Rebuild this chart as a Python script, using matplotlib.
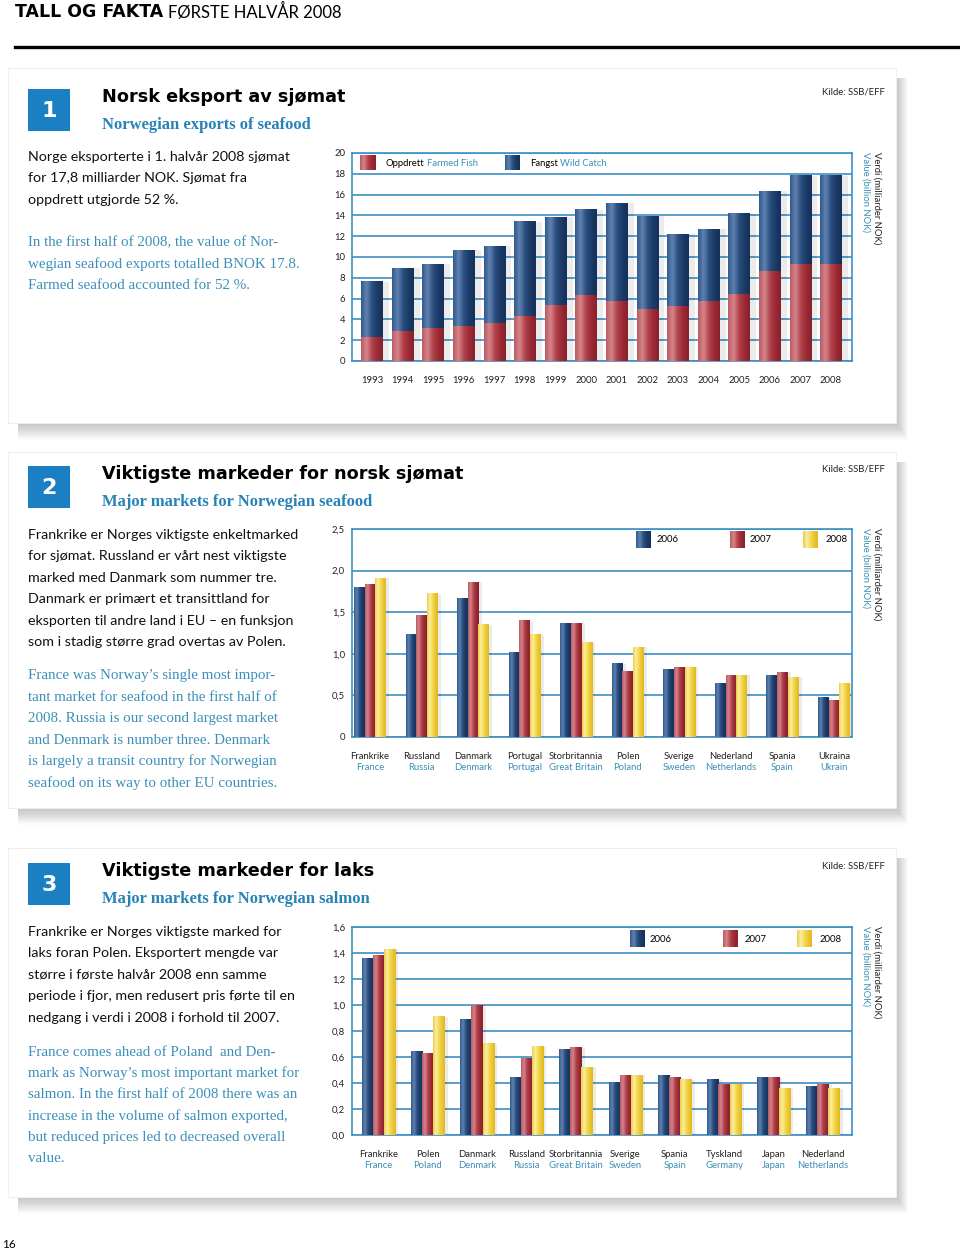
import numpy as np
import matplotlib
matplotlib.use("Agg")
import matplotlib.pyplot as plt
from matplotlib.patches import Rectangle
from matplotlib.colors import LinearSegmentedColormap
import matplotlib.transforms as mtrans

W, H = 960, 1253

# ---- data ----
years = ["1993", "1994", "1995", "1996", "1997", "1998", "1999", "2000",
         "2001", "2002", "2003", "2004", "2005", "2006", "2007", "2008"]
farmed = [2.3, 2.9, 3.2, 3.4, 3.7, 4.3, 5.4, 6.3, 5.8, 5.0, 5.3, 5.8, 6.4, 8.7, 9.3, 9.3]
wild = [5.3, 6.0, 6.1, 7.3, 7.4, 9.1, 8.4, 8.2, 9.4, 8.9, 6.9, 6.9, 7.7, 7.6, 8.5, 8.5]

sea_no = ["Frankrike", "Russland", "Danmark", "Portugal", "Storbritannia",
          "Polen", "Sverige", "Nederland", "Spania", "Ukraina"]
sea_en = ["France", "Russia", "Denmark", "Portugal", "Great Britain",
          "Poland", "Sweden", "Netherlands", "Spain", "Ukrain"]
sea_2006 = [1.80, 1.23, 1.67, 1.01, 1.36, 0.88, 0.81, 0.64, 0.74, 0.47]
sea_2007 = [1.83, 1.46, 1.86, 1.40, 1.37, 0.79, 0.83, 0.74, 0.78, 0.44]
sea_2008 = [1.91, 1.72, 1.35, 1.23, 1.13, 1.08, 0.84, 0.74, 0.72, 0.64]

salmon_no = ["Frankrike", "Polen", "Danmark", "Russland", "Storbritannia",
             "Sverige", "Spania", "Tyskland", "Japan", "Nederland"]
salmon_en = ["France", "Poland", "Denmark", "Russia", "Great Britain",
             "Sweden", "Spain", "Germany", "Japan", "Netherlands"]
salmon_2006 = [1.36, 0.64, 0.89, 0.44, 0.66, 0.40, 0.46, 0.425, 0.44, 0.37]
salmon_2007 = [1.38, 0.63, 1.00, 0.59, 0.67, 0.46, 0.44, 0.39, 0.44, 0.39]
salmon_2008 = [1.43, 0.91, 0.70, 0.68, 0.52, 0.46, 0.425, 0.39, 0.355, 0.355]

BLUE_BOX = "#1b7fc4"
TEAL = "#3b8fb8"
GRID = "#3d8fc2"
SANS = ["Lato", "DejaVu Sans"]
SERIF = ["Liberation Serif", "DejaVu Serif"]

blue_stops = ["#2f5a8c", "#6283b0", "#2a4f80", "#1b3b67", "#15305a"]
red_stops = ["#bb5a62", "#d6868c", "#b2434d", "#9b2a35", "#87212c"]
yel_stops = ["#ecca42", "#fbefa6", "#f4da55", "#ecc733", "#e0b820"]

fig = plt.figure(figsize=(W / 100, H / 100), dpi=100)
fig.patch.set_facecolor("white")

bg = fig.add_axes([0, 0, 1, 1], zorder=0)
bg.set_xlim(0, W)
bg.set_ylim(H, 0)
bg.axis("off")

top = fig.add_axes([0, 0, 1, 1], zorder=10)
top.set_xlim(0, W)
top.set_ylim(H, 0)
top.axis("off")


def grad_box(ax, x0, x1, y0, y1, stops, z=3):
    cmap = LinearSegmentedColormap.from_list("g", stops)
    g = np.linspace(0, 1, 64).reshape(1, -1)
    ax.imshow(g, cmap=cmap, extent=(x0, x1, y0, y1), aspect="auto",
              origin="lower", zorder=z, interpolation="bicubic")


def panel(y0, y1, x0=8, x1=896):
    for k in range(16):
        bg.add_patch(Rectangle((x0 + 10, y0 + 10), (x1 - x0 - 10) + k * 0.8,
                               (y1 - y0 - 10) + k * 1.1, fc="black",
                               alpha=0.016, lw=0))
    bg.add_patch(Rectangle((x0, y0), x1 - x0, y1 - y0, fc="white",
                           ec="#efefef", lw=0.8))


def header(num, y, title, sub):
    bg.add_patch(Rectangle((28, y), 42, 42, fc=BLUE_BOX, lw=0))
    bg.text(49, y + 22, num, color="white", fontsize=16, fontweight="bold",
            ha="center", va="center", family="DejaVu Sans")
    bg.text(102, y + 8, title, fontsize=12.7, fontweight="bold",
            ha="left", va="center", family="DejaVu Sans")
    bg.text(102, y + 36, sub, fontsize=12, fontweight="bold", color="#2783b6",
            ha="left", va="center", family=SERIF)
    bg.text(822, y + 3, "Kilde: SSB/EFF", fontsize=6.8, ha="left",
            va="center", family=SANS, color="#222222")


def body(y, lines, serif=False):
    for i, ln in enumerate(lines):
        if serif:
            bg.text(28, y + i * 21.4, ln, fontsize=10.8, color=TEAL,
                    family=SERIF, va="center", ha="left")
        else:
            bg.text(28, y + i * 21.4, ln, fontsize=10.3, color="#111111",
                    family=SANS, va="center", ha="left")


def value_label(ytop):
    bg.text(877, ytop, "Verdi (milliarder NOK)", rotation=270, fontsize=6.8,
            ha="center", va="top", family=SANS, color="#222222")
    bg.text(866, ytop, "Value (billion NOK)", rotation=270, fontsize=6.8,
            ha="center", va="top", family=SANS, color=TEAL)


def chart_axes(ytop, ybot, x0=352, x1=852):
    ax = fig.add_axes([x0 / W, 1 - ybot / H, (x1 - x0) / W, (ybot - ytop) / H],
                      zorder=5)
    ax.set_facecolor("none")
    for s in ax.spines.values():
        s.set_color(GRID)
        s.set_linewidth(1.2)
    ax.yaxis.grid(True, color=GRID, lw=1.2)
    ax.set_axisbelow(True)
    ax.tick_params(length=0, labelsize=6.8, colors="#222222", pad=5)
    return ax


def shaded_bars(ax, xs, hs, w, stops, bottoms=None, shadow=True):
    if bottoms is None:
        bottoms = [0] * len(xs)
    if shadow:
        tops = [b + h for b, h in zip(bottoms, hs)]
        ax.bar(np.asarray(xs) + w * 0.3, tops, w, color="black", alpha=0.08,
               zorder=1.8, lw=0)
    rects = ax.bar(xs, hs, w, bottom=bottoms, color=stops[2], zorder=2, lw=0)
    for r in rects:
        x, y = r.get_x(), r.get_y()
        grad_box(ax, x, x + r.get_width(), y, y + r.get_height(), stops, z=3)
    return rects


# ---- page header ----
bg.text(15, 12, "TALL OG FAKTA", fontsize=12.5, fontweight="heavy",
        family="DejaVu Sans", va="center", ha="left")
bg.text(168, 12, "FØRSTE HALVÅR 2008", fontsize=12, family=SANS,
        va="center", ha="left")
bg.plot([15, 960], [47, 47], color="black", lw=2.4)
bg.text(2, 1245, "16", fontsize=8.5, family=SANS, va="center", ha="left")

# ---- panels ----
panel(68, 423)
panel(452, 808)
panel(848, 1197)

header("1", 89, "Norsk eksport av sjømat", "Norwegian exports of seafood")
header("2", 466, "Viktigste markeder for norsk sjømat",
       "Major markets for Norwegian seafood")
header("3", 863, "Viktigste markeder for laks", "Major markets for Norwegian salmon")

body(157, ["Norge eksporterte i 1. halvår 2008 sjømat",
           "for 17,8 milliarder NOK. Sjømat fra",
           "oppdrett utgjorde 52 %."])
body(243, ["In the first half of 2008, the value of Nor-",
           "wegian seafood exports totalled BNOK 17.8.",
           "Farmed seafood accounted for 52 %."], serif=True)

body(535, ["Frankrike er Norges viktigste enkeltmarked",
           "for sjømat. Russland er vårt nest viktigste",
           "marked med Danmark som nummer tre.",
           "Danmark er primært et transittland for",
           "eksporten til andre land i EU – en funksjon",
           "som i stadig større grad overtas av Polen."])
body(676, ["France was Norway’s single most impor-",
           "tant market for seafood in the first half of",
           "2008. Russia is our second largest market",
           "and Denmark is number three. Denmark",
           "is largely a transit country for Norwegian",
           "seafood on its way to other EU countries."], serif=True)

body(932, ["Frankrike er Norges viktigste marked for",
           "laks foran Polen. Eksportert mengde var",
           "større i første halvår 2008 enn samme",
           "periode i fjor, men redusert pris førte til en",
           "nedgang i verdi i 2008 i forhold til 2007."])
body(1052, ["France comes ahead of Poland  and Den-",
            "mark as Norway’s most important market for",
            "salmon. In the first half of 2008 there was an",
            "increase in the volume of salmon exported,",
            "but reduced prices led to decreased overall",
            "value."], serif=True)

value_label(152)
value_label(528)
value_label(926)

# ---- chart 1: stacked ----
ax1 = chart_axes(153, 361)
x1 = np.arange(len(years))
shaded_bars(ax1, x1, farmed, 0.7, red_stops, shadow=False)
shaded_bars(ax1, x1, wild, 0.7, blue_stops, bottoms=farmed)
ax1.set_xlim(-0.65, 15.69)
ax1.set_ylim(0, 20)
ax1.set_yticks(np.arange(0, 21, 2))
ax1.set_xticks(x1, years)
ax1.tick_params(axis="x", pad=11)
for t in ax1.get_yticklabels() + ax1.get_xticklabels():
    t.set_family(SANS)

grad_box(top, 360, 376, 170, 155, red_stops)
top.text(386, 163, "Oppdrett", fontsize=6.8, family=SANS, va="center")
top.text(427, 163, "Farmed Fish", fontsize=6.8, family=SANS, va="center", color=TEAL)
grad_box(top, 505, 520, 170, 155, blue_stops)
top.text(530, 163, "Fangst", fontsize=6.8, family=SANS, va="center")
top.text(560, 163, "Wild Catch", fontsize=6.8, family=SANS, va="center", color=TEAL)


def grouped(ytop, ybot, names_no, names_en, v6, v7, v8, w, xlim, ymax, yticks,
            ylabels, leg_x, leg_y):
    ax = chart_axes(ytop, ybot)
    xs = np.arange(len(names_no))
    shaded_bars(ax, xs - w, v6, w, blue_stops)
    shaded_bars(ax, xs, v7, w, red_stops)
    shaded_bars(ax, xs + w, v8, w, yel_stops)
    ax.set_xlim(*xlim)
    ax.set_ylim(0, ymax)
    ax.set_yticks(yticks, ylabels)
    ax.set_xticks(xs, names_no)
    ax.tick_params(axis="x", pad=11)
    for t in ax.get_yticklabels() + ax.get_xticklabels():
        t.set_family(SANS)
    tr = mtrans.blended_transform_factory(ax.transData, ax.transAxes)
    for i, en in enumerate(names_en):
        ax.text(i, -0.145, en, transform=tr, ha="center", va="center",
                fontsize=6.8, color=TEAL, family=SANS)
    for (sx, tx), stops, lab in zip(leg_x, [blue_stops, red_stops, yel_stops],
                                    ["2006", "2007", "2008"]):
        grad_box(top, sx, sx + 15, leg_y + 8, leg_y - 9, stops)
        top.text(tx, leg_y, lab, fontsize=6.8, family=SANS, va="center")
    return ax


grouped(529, 737, sea_no, sea_en, sea_2006, sea_2007, sea_2008, 0.206,
        (-0.35, 9.35), 2.5, [0, 0.5, 1.0, 1.5, 2.0, 2.5],
        ["0", "0,5", "1,0", "1,5", "2,0", "2,5"],
        [(636, 657), (730, 750), (803, 826)], 540)

grouped(927, 1135, salmon_no, salmon_en, salmon_2006, salmon_2007, salmon_2008,
        0.225, (-0.53, 9.59), 1.6, [0, 0.2, 0.4, 0.6, 0.8, 1.0, 1.2, 1.4, 1.6],
        ["0,0", "0,2", "0,4", "0,6", "0,8", "1,0", "1,2", "1,4", "1,6"],
        [(630, 650), (723, 745), (797, 820)], 939)

fig.savefig("out.png", dpi=100, facecolor="white")
